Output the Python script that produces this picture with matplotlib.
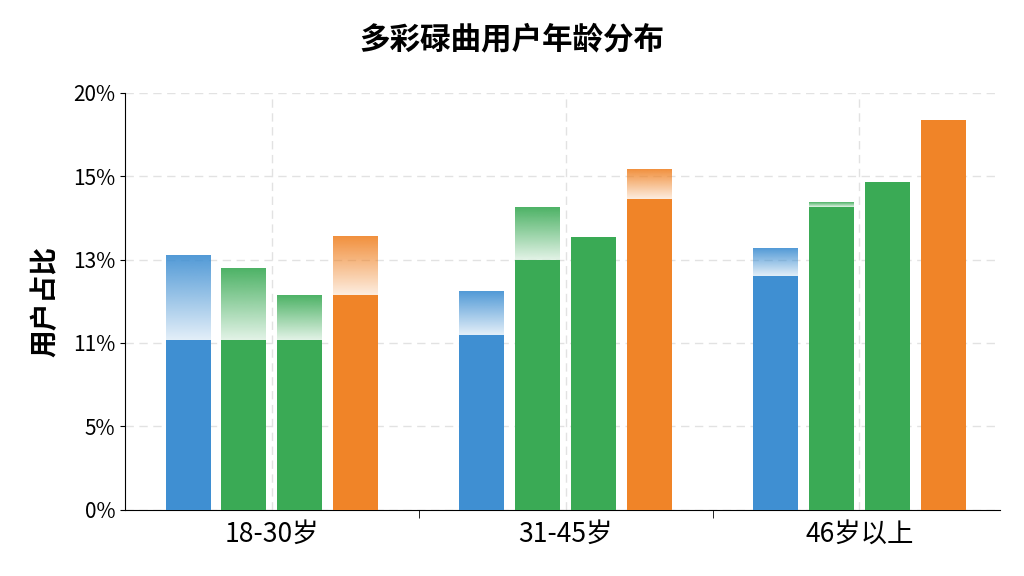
import matplotlib
matplotlib.use("Agg")
import matplotlib.pyplot as plt
import numpy as np
from matplotlib.colors import to_rgb

plt.rcParams['font.family'] = ['Noto Sans CJK SC', 'DejaVu Sans']

categories = ["18-30岁", "31-45岁", "46岁以上"]
tick_vals = [0, 4, 8, 12, 16, 20]
tick_labels = ["0%", "5%", "11%", "13%", "15%", "20%"]
colors = ["#3f8fd2", "#3aaa55", "#3aaa55", "#f08428"]
# solid heights and faded top heights for each series (per category)
solid = [[8.15, 8.4, 11.2], [8.15, 12.0, 14.5], [8.15, 13.1, 15.7], [10.3, 14.9, 18.7]]
faded = [[12.2, 10.5, 12.5], [11.6, 14.5, 14.7], [10.3, 13.1, 15.7], [13.1, 16.3, 18.7]]

fig = plt.figure(figsize=(10.24, 5.76), dpi=100)
ax = fig.add_axes([0.122, 0.115, 0.855, 0.724])
offsets = [-0.285, -0.095, 0.095, 0.285]
w = 0.153
x = np.arange(len(categories))
for s in range(4):
    rgb = to_rgb(colors[s])
    ax.bar(x + offsets[s], solid[s], width=w, color=colors[s], zorder=3)
    for i in range(len(categories)):
        lo, hi = solid[s][i], faded[s][i]
        if hi > lo:
            n = 64
            img = np.zeros((n, 1, 4))
            img[..., :3] = rgb
            img[:, 0, 3] = np.linspace(0.15, 0.9, n)[::1]
            ax.imshow(img, extent=[x[i] + offsets[s] - w / 2, x[i] + offsets[s] + w / 2, hi, lo],
                      aspect='auto', zorder=3, interpolation='bilinear')

ax.set_xlim(-0.5, 2.48)
ax.set_ylim(0, 20)
ax.set_yticks(tick_vals)
ax.set_yticklabels(tick_labels, fontsize=15)
ax.set_xticks(x)
ax.set_xticklabels(categories, fontsize=19)
ax.set_xticks([0.5, 1.5], minor=True)
ax.tick_params(axis='x', which='major', length=0, pad=8)
ax.tick_params(axis='x', which='minor', length=6)
ax.grid(True, linestyle=(0, (6, 4)), color='#e2e2e2', linewidth=1, zorder=0)
for sp in ['top', 'right']:
    ax.spines[sp].set_visible(False)
ax.set_ylabel("用户占比", fontsize=20, fontweight='bold', labelpad=10)
fig.suptitle("多彩碌曲用户年龄分布", fontsize=22, fontweight='bold', y=0.96)
fig.savefig("out.png")
